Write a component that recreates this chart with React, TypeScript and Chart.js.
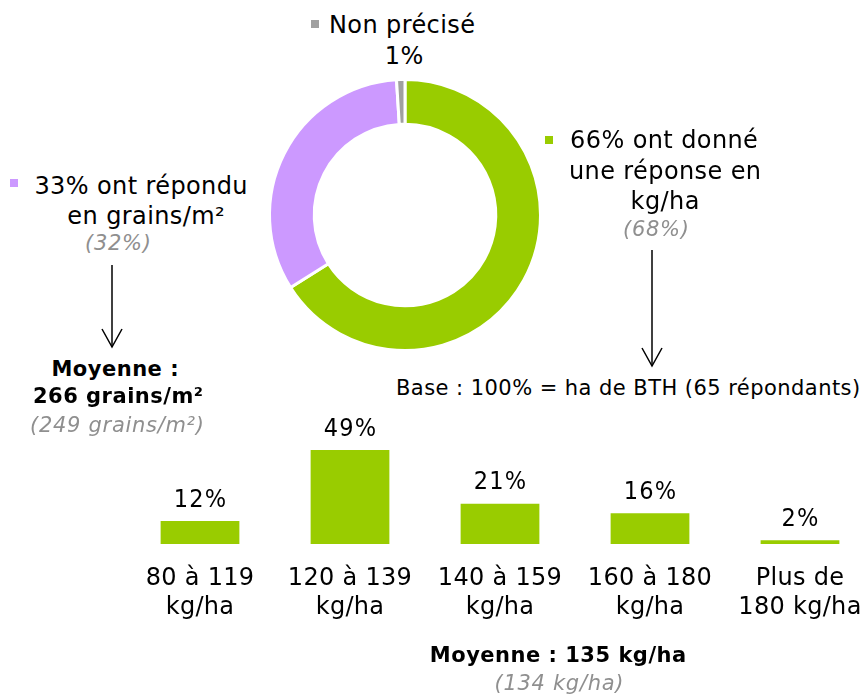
import React, { useEffect, useRef } from 'react';
import { Chart, registerables } from 'chart.js';

Chart.register(...registerables);

// ---- Data ----
const pieLabels = ['Réponse en kg/ha', 'Réponse en grains/m²', 'Non précisé'];
const pieValues = [66, 33, 1];
const pieColors = ['#99CC00', '#CC99FF', '#A0A0A0'];

const barCategories = [
  ['80 à 119', 'kg/ha'],
  ['120 à 139', 'kg/ha'],
  ['140 à 159', 'kg/ha'],
  ['160 à 180', 'kg/ha'],
  ['Plus de', '180 kg/ha'],
];
const barValues = [12, 49, 21, 16, 2];
const barColor = '#99CC00';

const FONT = '"DejaVu Sans", Verdana, sans-serif';
const GREY = '#8F8F8F';

type TxtProps = {
  x: number;
  y: number;
  children: React.ReactNode;
  size?: number;
  bold?: boolean;
  italic?: boolean;
  color?: string;
  spacing?: number;
};

function Txt({ x, y, children, size = 24, bold = false, italic = false, color = '#000', spacing = 0.4 }: TxtProps) {
  return (
    <div
      style={{
        position: 'absolute',
        left: x + spacing / 2,
        top: y,
        transform: 'translate(-50%, -50%)',
        whiteSpace: 'nowrap',
        fontFamily: FONT,
        fontSize: size,
        fontWeight: bold ? 'bold' : 'normal',
        fontStyle: italic ? 'italic' : 'normal',
        color,
        letterSpacing: spacing,
        lineHeight: 1,
      }}
    >
      {children}
    </div>
  );
}

function Square({ x, y, color }: { x: number; y: number; color: string }) {
  return <div style={{ position: 'absolute', left: x, top: y, width: 8, height: 8, background: color }} />;
}

const barLabelPlugin = {
  id: 'barValueLabels',
  afterDatasetsDraw(chart: any) {
    const ctx = chart.ctx as CanvasRenderingContext2D;
    const meta = chart.getDatasetMeta(0);
    ctx.save();
    ctx.font = '25px "DejaVu Sans Condensed", "DejaVu Sans"';
    (ctx as any).letterSpacing = '1.2px';
    ctx.fillStyle = '#000';
    ctx.textAlign = 'center';
    ctx.textBaseline = 'middle';
    meta.data.forEach((bar: any, i: number) => {
      ctx.fillText(barValues[i] + '%', bar.x + 0.6, bar.y - 21);
    });
    ctx.restore();
  },
};

const tickSpacingPlugin = {
  id: 'tickSpacing',
  beforeDraw(chart: any) {
    (chart.ctx as any).letterSpacing = '0.3px';
  },
};

export default function App() {
  const pieRef = useRef<HTMLCanvasElement | null>(null);
  const barRef = useRef<HTMLCanvasElement | null>(null);

  useEffect(() => {
    if (!pieRef.current) return;
    const c = new Chart(pieRef.current, {
      type: 'doughnut',
      data: {
        labels: pieLabels,
        datasets: [
          {
            data: pieValues,
            backgroundColor: pieColors,
            borderColor: '#FFFFFF',
            borderWidth: 3,
          },
        ],
      },
      options: {
        responsive: false,
        animation: false,
        cutout: '67%',
        layout: { padding: 8 },
        plugins: { legend: { display: false }, tooltip: { enabled: false } },
      },
    });
    return () => c.destroy();
  }, []);

  useEffect(() => {
    if (!barRef.current) return;
    const c = new Chart(barRef.current, {
      type: 'bar',
      data: {
        labels: barCategories as any,
        datasets: [
          {
            data: barValues,
            backgroundColor: barColor,
            barPercentage: 0.525,
            categoryPercentage: 1,
          },
        ],
      },
      options: {
        responsive: false,
        animation: false,
        layout: { padding: { top: 29, left: 0, right: 0, bottom: 0 } },
        scales: {
          x: {
            grid: { display: false, drawTicks: false },
            border: { display: false },
            ticks: {
              font: { family: '"DejaVu Sans"', size: 24, lineHeight: 1.21 },
              color: '#000',
              padding: 20,
              autoSkip: false,
              maxRotation: 0,
            },
            afterFit: (s: any) => {
              s.height = 150;
              s.paddingLeft = 0;
              s.paddingRight = 0;
            },
          },
          y: { display: false, min: 0, max: 60 },
        },
        plugins: { legend: { display: false }, tooltip: { enabled: false } },
      },
      plugins: [tickSpacingPlugin, barLabelPlugin],
    });
    return () => c.destroy();
  }, []);

  return (
    <div
      style={{
        position: 'fixed',
        left: 0,
        top: 0,
        width: 865,
        height: 694,
        overflow: 'hidden',
        background: '#FFFFFF',
      }}
    >
      <canvas ref={pieRef} width={290} height={290} style={{ position: 'absolute', left: 260, top: 70 }} />
      <canvas ref={barRef} width={750} height={294} style={{ position: 'absolute', left: 125, top: 400 }} />

      {/* Non précisé */}
      <Square x={311} y={20} color={pieColors[2]} />
      <Txt x={402} y={25}>Non précisé</Txt>
      <Txt x={404} y={56}>1%</Txt>

      {/* kg/ha */}
      <Square x={545} y={136} color={pieColors[0]} />
      <Txt x={664} y={140}>66% ont donné</Txt>
      <Txt x={665} y={171}>une réponse en</Txt>
      <Txt x={665} y={201}>kg/ha</Txt>
      <Txt x={656} y={229} size={21} italic color={GREY} spacing={0.7}>(68%)</Txt>

      {/* grains/m² */}
      <Square x={10} y={179} color={pieColors[1]} />
      <Txt x={141} y={186}>33% ont répondu</Txt>
      <Txt x={146} y={216}>en grains/m²</Txt>
      <Txt x={118} y={243} size={21} italic color={GREY} spacing={0.7}>(32%)</Txt>

      <Txt x={115} y={369} size={21} bold spacing={0.5}>Moyenne :</Txt>
      <Txt x={118} y={396} size={21} bold spacing={0.5}>266 grains/m²</Txt>
      <Txt x={117} y={425} size={21} italic color={GREY} spacing={0.7}>(249 grains/m²)</Txt>

      <div
        style={{
          position: 'absolute',
          left: 396,
          top: 388,
          transform: 'translateY(-50%)',
          whiteSpace: 'nowrap',
          fontFamily: FONT,
          fontSize: 21,
          letterSpacing: 0.45,
          lineHeight: 1,
          color: '#000',
        }}
      >
        Base : 100% = ha de BTH (65 répondants)
      </div>

      <Txt x={558} y={655} size={21} bold spacing={0.5}>Moyenne : 135 kg/ha</Txt>
      <Txt x={559} y={683} size={21} italic color={GREY} spacing={0.7}>(134 kg/ha)</Txt>

      <svg width={865} height={694} style={{ position: 'absolute', left: 0, top: 0 }}>
        <g stroke="#000" strokeWidth={1.5} fill="none">
          <line x1={112} y1={265} x2={112} y2={347} />
          <polyline points="102,329 112,347 122,329" />
          <line x1={652} y1={250} x2={652} y2={366} />
          <polyline points="642,348 652,366 662,348" />
        </g>
      </svg>
    </div>
  );
}
